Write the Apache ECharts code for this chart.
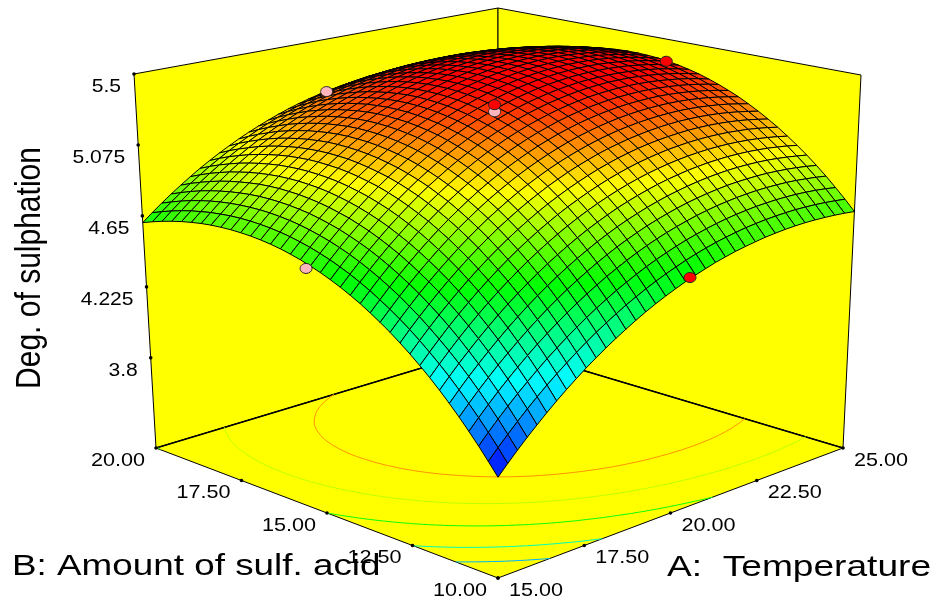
<!DOCTYPE html>
<html><head><meta charset="utf-8"><style>html,body{margin:0;padding:0;background:#fff}#c{width:936px;height:603px}</style>
<script src="https://cdn.jsdelivr.net/npm/echarts@6/dist/echarts.min.js"></script></head><body><div id="c"></div><script>
const tempTicks=[15,17.5,20,22.5,25];
const acidTicks=[10,12.5,15,17.5,20];
const zTicks=[3.8,4.225,4.65,5.075,5.5];
const contourLevels=[4.08,4.31,4.62,4.90,5.17];
const designTemp=[15,20.4,25,20.25,19.98,19.98];
const designAcid=[15.4,10,15.35,20,15.07,15.07];
const designZ=[4.62,4.57,5.36,5.17,5.304,5.346];
const designColor=['#ffb6bc','#ff0000','#ff0000','#ffb6bc','#ffb6bc','#ff0000'];
const N=36;
const surface=[
[3.800,3.856,3.910,3.962,4.012,4.061,4.108,4.153,4.196,4.238,4.277,4.315,4.351,4.385,4.418,4.449,4.478,4.505,4.530,4.554,4.575,4.595,4.614,4.630,4.645,4.657,4.668,4.678,4.685,4.691,4.695,4.697,4.697,4.695,4.692,4.687,4.680],
[3.867,3.924,3.978,4.031,4.082,4.131,4.178,4.223,4.266,4.308,4.348,4.386,4.422,4.456,4.489,4.519,4.548,4.575,4.600,4.623,4.645,4.665,4.683,4.699,4.713,4.725,4.736,4.744,4.751,4.756,4.759,4.761,4.760,4.758,4.754,4.748,4.741],
[3.932,3.989,4.044,4.097,4.148,4.197,4.244,4.290,4.333,4.375,4.415,4.453,4.489,4.523,4.556,4.586,4.615,4.642,4.667,4.690,4.711,4.731,4.748,4.764,4.778,4.790,4.800,4.808,4.815,4.819,4.822,4.823,4.822,4.819,4.814,4.807,4.798],
[3.994,4.051,4.106,4.160,4.211,4.260,4.308,4.354,4.397,4.439,4.479,4.517,4.553,4.587,4.620,4.650,4.679,4.706,4.731,4.754,4.775,4.794,4.811,4.827,4.840,4.852,4.861,4.869,4.875,4.879,4.881,4.881,4.880,4.876,4.870,4.863,4.854],
[4.054,4.111,4.167,4.220,4.272,4.321,4.369,4.415,4.459,4.501,4.541,4.579,4.615,4.649,4.682,4.712,4.741,4.767,4.792,4.815,4.835,4.854,4.871,4.886,4.899,4.910,4.919,4.927,4.932,4.935,4.937,4.937,4.934,4.930,4.924,4.916,4.906],
[4.111,4.169,4.225,4.278,4.330,4.380,4.428,4.474,4.518,4.560,4.600,4.638,4.674,4.708,4.740,4.771,4.799,4.826,4.850,4.872,4.893,4.911,4.928,4.942,4.955,4.966,4.975,4.982,4.987,4.990,4.991,4.990,4.987,4.982,4.975,4.966,4.956],
[4.166,4.224,4.280,4.333,4.385,4.435,4.483,4.529,4.573,4.615,4.655,4.693,4.729,4.763,4.795,4.826,4.854,4.880,4.905,4.927,4.947,4.965,4.982,4.996,5.008,5.019,5.027,5.034,5.038,5.041,5.041,5.040,5.036,5.031,5.023,5.014,5.002],
[4.218,4.276,4.332,4.386,4.438,4.488,4.536,4.582,4.626,4.668,4.708,4.746,4.782,4.816,4.848,4.878,4.906,4.932,4.956,4.978,4.998,5.016,5.032,5.046,5.058,5.068,5.076,5.082,5.086,5.088,5.088,5.086,5.082,5.076,5.068,5.058,5.046],
[4.267,4.325,4.381,4.436,4.488,4.538,4.586,4.632,4.676,4.718,4.758,4.796,4.832,4.866,4.898,4.928,4.955,4.981,5.005,5.027,5.047,5.065,5.081,5.094,5.106,5.116,5.123,5.129,5.132,5.134,5.133,5.131,5.126,5.120,5.111,5.101,5.088],
[4.314,4.372,4.428,4.483,4.535,4.585,4.633,4.679,4.723,4.765,4.805,4.843,4.879,4.913,4.945,4.974,5.002,5.027,5.051,5.073,5.092,5.110,5.125,5.139,5.150,5.159,5.166,5.171,5.175,5.176,5.175,5.172,5.167,5.160,5.151,5.139,5.126],
[4.358,4.417,4.473,4.527,4.580,4.630,4.678,4.724,4.768,4.810,4.850,4.887,4.923,4.957,4.988,5.018,5.045,5.071,5.094,5.115,5.135,5.152,5.167,5.180,5.191,5.200,5.207,5.212,5.215,5.215,5.214,5.210,5.205,5.197,5.187,5.175,5.162],
[4.400,4.458,4.514,4.569,4.621,4.671,4.719,4.765,4.809,4.851,4.891,4.928,4.964,4.998,5.029,5.058,5.086,5.111,5.134,5.155,5.174,5.191,5.206,5.219,5.229,5.238,5.244,5.249,5.251,5.252,5.250,5.246,5.240,5.232,5.222,5.209,5.195],
[4.439,4.497,4.554,4.608,4.660,4.710,4.758,4.804,4.848,4.889,4.929,4.967,5.002,5.035,5.067,5.096,5.123,5.148,5.171,5.192,5.211,5.227,5.242,5.254,5.265,5.273,5.279,5.283,5.285,5.285,5.283,5.279,5.272,5.264,5.253,5.240,5.226],
[4.475,4.533,4.590,4.644,4.696,4.746,4.794,4.840,4.884,4.925,4.965,5.003,5.038,5.071,5.102,5.131,5.158,5.183,5.205,5.226,5.244,5.261,5.275,5.287,5.297,5.305,5.311,5.314,5.316,5.316,5.313,5.308,5.301,5.292,5.281,5.268,5.253],
[4.510,4.568,4.624,4.678,4.730,4.780,4.828,4.874,4.917,4.959,4.998,5.035,5.070,5.103,5.134,5.163,5.189,5.214,5.236,5.256,5.275,5.291,5.305,5.317,5.326,5.334,5.339,5.342,5.344,5.343,5.340,5.335,5.328,5.319,5.307,5.294,5.278],
[4.541,4.599,4.655,4.709,4.761,4.810,4.858,4.903,4.947,4.988,5.027,5.064,5.099,5.132,5.163,5.191,5.218,5.242,5.264,5.284,5.302,5.318,5.332,5.343,5.353,5.360,5.365,5.368,5.369,5.368,5.364,5.359,5.351,5.342,5.330,5.316,5.300],
[4.570,4.628,4.684,4.738,4.789,4.839,4.886,4.931,4.975,5.016,5.054,5.091,5.126,5.158,5.189,5.217,5.243,5.267,5.289,5.309,5.326,5.342,5.355,5.367,5.376,5.383,5.388,5.391,5.391,5.390,5.386,5.380,5.372,5.362,5.350,5.336,5.320],
[4.596,4.654,4.710,4.763,4.815,4.864,4.911,4.956,4.999,5.040,5.078,5.115,5.149,5.181,5.212,5.240,5.266,5.289,5.311,5.331,5.348,5.363,5.376,5.387,5.396,5.403,5.407,5.409,5.410,5.408,5.404,5.398,5.390,5.380,5.367,5.353,5.336],
[4.620,4.678,4.733,4.786,4.837,4.886,4.933,4.978,5.021,5.061,5.100,5.136,5.170,5.202,5.232,5.260,5.285,5.309,5.330,5.349,5.366,5.381,5.394,5.405,5.413,5.420,5.424,5.426,5.426,5.424,5.420,5.414,5.405,5.395,5.382,5.367,5.350],
[4.641,4.698,4.754,4.807,4.858,4.906,4.953,4.998,5.040,5.080,5.118,5.154,5.188,5.220,5.249,5.277,5.302,5.325,5.346,5.365,5.382,5.397,5.409,5.420,5.428,5.434,5.438,5.440,5.440,5.438,5.433,5.426,5.418,5.407,5.394,5.379,5.361],
[4.660,4.717,4.771,4.824,4.874,4.923,4.969,5.013,5.055,5.095,5.133,5.169,5.203,5.234,5.263,5.290,5.315,5.338,5.359,5.378,5.394,5.409,5.421,5.431,5.439,5.445,5.449,5.451,5.450,5.448,5.443,5.436,5.427,5.416,5.402,5.387,5.370],
[4.676,4.732,4.787,4.839,4.889,4.937,4.983,5.027,5.068,5.108,5.145,5.181,5.214,5.245,5.274,5.301,5.326,5.349,5.369,5.387,5.403,5.417,5.429,5.439,5.447,5.453,5.456,5.457,5.457,5.454,5.449,5.442,5.433,5.422,5.408,5.393,5.375],
[4.690,4.746,4.800,4.852,4.901,4.949,4.995,5.038,5.079,5.118,5.155,5.190,5.223,5.254,5.282,5.309,5.333,5.356,5.376,5.394,5.410,5.424,5.436,5.445,5.453,5.458,5.462,5.463,5.462,5.459,5.454,5.446,5.437,5.425,5.411,5.396,5.378],
[4.701,4.756,4.810,4.861,4.910,4.958,5.003,5.046,5.087,5.125,5.162,5.197,5.229,5.259,5.288,5.314,5.338,5.360,5.380,5.398,5.413,5.427,5.438,5.448,5.455,5.460,5.463,5.464,5.463,5.460,5.455,5.447,5.438,5.426,5.412,5.396,5.378],
[4.709,4.764,4.817,4.868,4.917,4.963,5.008,5.050,5.091,5.129,5.165,5.200,5.232,5.262,5.290,5.316,5.340,5.361,5.381,5.399,5.414,5.427,5.439,5.448,5.455,5.459,5.462,5.463,5.461,5.458,5.453,5.445,5.435,5.423,5.409,5.393,5.376],
[4.715,4.769,4.822,4.872,4.920,4.967,5.011,5.053,5.093,5.131,5.167,5.201,5.233,5.263,5.290,5.315,5.339,5.360,5.379,5.396,5.411,5.424,5.435,5.444,5.451,5.456,5.458,5.459,5.457,5.454,5.448,5.440,5.430,5.418,5.404,5.388,5.370],
[4.718,4.772,4.824,4.874,4.922,4.967,5.011,5.053,5.092,5.130,5.165,5.199,5.230,5.259,5.286,5.311,5.334,5.355,5.374,5.391,5.406,5.418,5.429,5.437,5.444,5.448,5.451,5.451,5.449,5.446,5.440,5.432,5.422,5.410,5.396,5.380,5.362],
[4.719,4.772,4.823,4.873,4.920,4.965,5.008,5.049,5.088,5.125,5.160,5.193,5.224,5.253,5.280,5.304,5.327,5.348,5.366,5.383,5.397,5.410,5.420,5.429,5.435,5.439,5.441,5.442,5.440,5.436,5.430,5.422,5.412,5.400,5.386,5.369,5.351],
[4.717,4.770,4.820,4.869,4.916,4.960,5.003,5.043,5.082,5.118,5.152,5.185,5.215,5.243,5.270,5.294,5.316,5.337,5.355,5.371,5.385,5.397,5.408,5.416,5.422,5.426,5.428,5.428,5.426,5.422,5.416,5.408,5.398,5.386,5.372,5.356,5.338],
[4.713,4.764,4.814,4.862,4.908,4.952,4.994,5.034,5.072,5.108,5.142,5.174,5.204,5.232,5.258,5.282,5.304,5.323,5.341,5.357,5.371,5.383,5.393,5.401,5.407,5.411,5.413,5.412,5.410,5.406,5.400,5.392,5.382,5.370,5.355,5.339,5.321],
[4.706,4.757,4.806,4.853,4.898,4.942,4.983,5.022,5.060,5.095,5.128,5.160,5.189,5.217,5.242,5.266,5.287,5.307,5.324,5.340,5.353,5.365,5.375,5.382,5.388,5.392,5.394,5.393,5.391,5.387,5.381,5.373,5.363,5.351,5.336,5.320,5.302],
[4.696,4.746,4.795,4.841,4.886,4.928,4.969,5.008,5.045,5.080,5.112,5.143,5.172,5.199,5.224,5.247,5.268,5.287,5.305,5.320,5.333,5.345,5.354,5.362,5.367,5.371,5.372,5.372,5.370,5.365,5.359,5.351,5.341,5.328,5.314,5.298,5.280],
[4.684,4.734,4.781,4.827,4.871,4.913,4.953,4.991,5.027,5.061,5.094,5.124,5.152,5.179,5.203,5.226,5.247,5.265,5.282,5.297,5.310,5.321,5.330,5.337,5.342,5.346,5.347,5.347,5.345,5.340,5.334,5.326,5.316,5.304,5.290,5.274,5.256],
[4.669,4.718,4.765,4.810,4.853,4.894,4.933,4.970,5.005,5.039,5.070,5.100,5.128,5.154,5.178,5.201,5.221,5.240,5.256,5.271,5.283,5.294,5.303,5.310,5.315,5.318,5.319,5.319,5.316,5.312,5.306,5.298,5.288,5.276,5.262,5.246,5.229],
[4.652,4.700,4.746,4.790,4.832,4.873,4.911,4.948,4.982,5.015,5.046,5.075,5.102,5.128,5.151,5.173,5.193,5.211,5.227,5.241,5.253,5.264,5.272,5.279,5.284,5.287,5.288,5.288,5.285,5.281,5.275,5.267,5.257,5.245,5.231,5.215,5.198],
[4.632,4.679,4.724,4.767,4.809,4.848,4.886,4.922,4.956,4.988,5.018,5.047,5.073,5.098,5.121,5.142,5.162,5.179,5.195,5.209,5.221,5.231,5.240,5.246,5.251,5.254,5.255,5.254,5.252,5.247,5.241,5.233,5.223,5.212,5.198,5.183,5.166],
[4.610,4.656,4.700,4.742,4.782,4.821,4.858,4.893,4.926,4.957,4.987,5.015,5.041,5.065,5.088,5.109,5.128,5.145,5.160,5.174,5.185,5.195,5.203,5.209,5.214,5.217,5.218,5.217,5.214,5.210,5.204,5.196,5.187,5.175,5.162,5.147,5.130]
];
const zBase=3.26,zTop=5.5;
const C={f00:[498,578],f10:[843,448],f01:[156,448],f11:[498,345],t00:[498,160],t10:[861,75],t01:[134,74],t11:[498,8]};
function proj(A,B,z){const u=(A-15)/10,v=(B-10)/10,t=(z-zBase)/(zTop-zBase);
 const out=[0,1].map(k=>{const f=C.f00[k]*(1-u)*(1-v)+C.f10[k]*u*(1-v)+C.f01[k]*(1-u)*v+C.f11[k]*u*v;
 const g=C.t00[k]*(1-u)*(1-v)+C.t10[k]*u*(1-v)+C.t01[k]*(1-u)*v+C.t11[k]*u*v;return f*(1-t)+g*t;});return out;}
const stops=[[0,0,255],[0,255,255],[0,255,0],[255,255,0],[255,0,0]];
function col(z){let s=(z-3.8)/1.6*4;s=Math.max(0,Math.min(3.9999,s));const k=Math.floor(s),f=s-k;const a=stops[k],b=stops[k+1];return `rgb(${a.map((x,m)=>Math.round(x+(b[m]-x)*f)).join(',')})`;}
const axisA=i=>15+10*i/N,axisB=j=>10+10*j/N;
const cells=[];for(let s=2*N-2;s>=0;s--)for(let i=0;i<N;i++){const j=s-i;if(j<0||j>=N)continue;cells.push([i,j]);}
const segs=[];contourLevels.forEach(L=>{for(let j=0;j<N;j++)for(let i=0;i<N;i++){
 const c=[[i,j],[i+1,j],[i+1,j+1],[i,j+1]],pts=[];
 for(let k=0;k<4;k++){const p=c[k],q=c[(k+1)%4],a=surface[p[1]][p[0]],b=surface[q[1]][q[0]];
  if((a<L)!==(b<L)){const f=(L-a)/(b-a);pts.push([axisA(p[0]+(q[0]-p[0])*f),axisB(p[1]+(q[1]-p[1])*f)]);}}
 if(pts.length>=2)segs.push([pts[0][0],pts[0][1],pts[1][0],pts[1][1],L]);}});
const FONT='"Liberation Sans",Arial,sans-serif';
const labels=[];
zTicks.forEach(z=>{const p=proj(15,20,z);labels.push([p[0]-13,p[1]+13,z===5.5?'5.5':z===3.8?'3.8':String(z),'right',18,1.17,0,1]);});
acidTicks.forEach(b=>{const p=proj(15,b,zBase);labels.push([p[0]-11,p[1]+13,b.toFixed(2),'right',18,1.2,0,1]);});
tempTicks.forEach(a=>{const p=proj(a,10,zBase);labels.push([p[0]+11,p[1]+13,a.toFixed(2),'left',18,1.2,0,1]);});
labels.push([12,567,'B: Amount of sulf. acid','left',29,1.27,0,1]);
labels.push([667,568,'A:  Temperature','left',29,1.28,0,1]);
labels.push([30,268,'Deg. of sulphation','center',30,1,90,1.15]);
const wallSets=[[[15,20,zBase],[25,20,zBase],[25,20,zTop],[15,20,zTop]],[[25,10,zBase],[25,20,zBase],[25,20,zTop],[25,10,zTop]],[[15,10,zBase],[25,10,zBase],[25,20,zBase],[15,20,zBase]]];
const ticks=[];zTicks.forEach(z=>ticks.push(proj(15,20,z)));acidTicks.forEach(b=>ticks.push(proj(15,b,zBase)));tempTicks.forEach(a=>ticks.push(proj(a,10,zBase)));
const backEdges=[[15,20,25,20],[25,10,25,20]];
const chart=echarts.init(document.getElementById('c'),null,{renderer:'canvas'});
const base={type:'custom',coordinateSystem:'cartesian2d',clip:false,silent:true,animation:false,progressive:0};
chart.setOption({animation:false,backgroundColor:'#fff',grid:{left:0,right:0,top:0,bottom:0},
 xAxis:{type:'value',min:0,max:936,show:false},yAxis:{type:'value',min:0,max:603,inverse:true,show:false},
 series:[
 {...base,z:1,data:wallSets.map((_,i)=>[i]),renderItem:(p,api)=>{const w=wallSets[p.dataIndex];return{type:'polygon',shape:{points:w.map(q=>api.coord(proj(q[0],q[1],q[2])))},style:{fill:'#ffff00',stroke:'#000',lineWidth:1}};}},
 {...base,z:2,data:backEdges.map((_,i)=>[i]),renderItem:(p,api)=>{const e=backEdges[p.dataIndex];const a=api.coord(proj(e[0],e[1],zBase)),b=api.coord(proj(e[2],e[3],zBase));return{type:'line',shape:{x1:a[0],y1:a[1],x2:b[0],y2:b[1]},style:{stroke:'#000',lineWidth:1.5}};}},
 {...base,z:3,data:segs.map((_,i)=>[i]),renderItem:(p,api)=>{const s=segs[p.dataIndex];const a=api.coord(proj(s[0],s[1],zBase)),b=api.coord(proj(s[2],s[3],zBase));return{type:'line',shape:{x1:a[0],y1:a[1],x2:b[0],y2:b[1]},style:{stroke:col(s[4]),lineWidth:1}};}},
 {...base,z:4,data:cells,renderItem:(p,api)=>{const [i,j]=cells[p.dataIndex];const c=[[i,j],[i+1,j],[i+1,j+1],[i,j+1]];let m=0;const pts=c.map(q=>{const z=surface[q[1]][q[0]];m+=z/4;return api.coord(proj(axisA(q[0]),axisB(q[1]),z));});return{type:'polygon',shape:{points:pts},style:{fill:col(m),stroke:'#000',lineWidth:1}};}},
 {...base,z:5,data:ticks.map((_,i)=>[i]),renderItem:(p,api)=>{const t=api.coord(ticks[p.dataIndex]);return{type:'circle',shape:{cx:t[0],cy:t[1],r:1.8},style:{fill:'#000'}};}},
 {...base,z:6,data:designZ.map((_,i)=>[i]),renderItem:(p,api)=>{const i=p.dataIndex,t=api.coord(proj(designTemp[i],designAcid[i],designZ[i]));return{type:'ellipse',shape:{cx:t[0],cy:t[1],rx:6,ry:5},style:{fill:designColor[i],stroke:'#222',lineWidth:1}};}},
 {...base,z:7,data:labels.map((_,i)=>[i]),renderItem:(p,api)=>{const l=labels[p.dataIndex],t=api.coord([l[0],l[1]]);return{type:'text',x:t[0],y:t[1],scaleX:l[5],scaleY:l[7],rotation:l[6]*Math.PI/180,style:{text:l[2],x:0,y:0,fill:'#000',font:l[4]+'px '+FONT,align:l[3],verticalAlign:'middle'}};}}
 ]});
</script></body></html>
